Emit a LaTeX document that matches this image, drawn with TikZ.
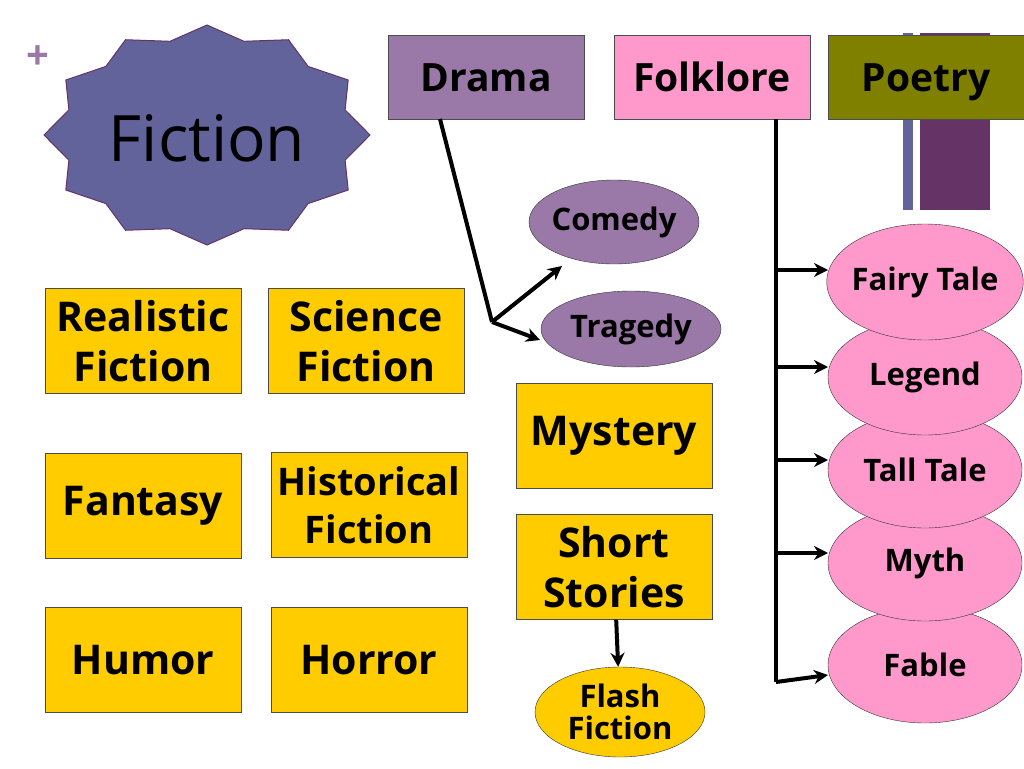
\documentclass[tikz,border=0pt]{standalone}
\usepackage{fontspec}
\setmainfont{Open Sans}
\usetikzlibrary{shapes.geometric,positioning,arrows.meta}
\definecolor{gold}{HTML}{FFCC00}
\definecolor{mauve}{HTML}{9A78A8}
\definecolor{pinky}{HTML}{FF99CC}
\definecolor{olivegreen}{HTML}{7F7F00}
\definecolor{slate}{HTML}{62639B}
\definecolor{plum}{HTML}{663366}
\tikzset{
  genre/.style={draw=black!70, fill=gold, minimum width=196pt, minimum height=105pt,
    align=center, inner sep=0pt, font=\fontsize{41}{50}\selectfont\bfseries},
  top/.style={draw=black!70, minimum width=196pt, minimum height=84pt,
    text height=34pt, text depth=5pt, font=\fontsize{39}{40}\selectfont\bfseries},
  oval/.style={draw=black!80, ellipse, align=center, inner sep=-4pt, font=\fontsize{31}{36}\selectfont\bfseries},
  arr/.style={line width=4pt, -{Stealth[length=14pt,width=14pt]}}
}
\begin{document}
\begin{tikzpicture}[x=1pt,y=-1pt]
\useasboundingbox (0,0) rectangle (1024,768);
% decorative bars
\fill[slate] (903,33) rectangle (913,210);
\fill[plum] (920,33) rectangle (990,210);
\node[text=mauve, font=\fontsize{40}{40}\selectfont\bfseries] (plus) at (38,58) {+};
% star
\filldraw[fill=slate, draw=plum, line width=1pt]
  (207,25) \foreach \i in {1,...,12}{ -- ({207+143*cos(90+30*\i-15)},{135-97*sin(90+30*\i-15)}) -- ({207+163*cos(90+30*\i)},{135-110*sin(90+30*\i)}) } -- cycle;
\node[font=\fontsize{64}{64}\selectfont] (fiction) at (207,138) {Fiction};
% top row
\node[top, fill=mauve] (drama) at (486,77) {Drama};
\node[top, fill=pinky] (folklore) at (712,77) {Folklore};
\node[top, fill=olivegreen] (poetry) at (926,77) {Poetry};
% genres
\node[genre] (realistic) at (143,341) {Realistic\\Fiction};
\node[genre] (scifi) at (366,341) {Science\\Fiction};
\node[genre] (fantasy) at (143,506) {Fantasy};
\node[genre, font=\fontsize{38}{48}\selectfont\bfseries] (historical) at (369,505) {Historical\\Fiction};
\node[genre] (humor) at (143,660) {Humor};
\node[genre] (horror) at (369,660) {Horror};
\node[genre] (mystery) at (614,436) {Mystery};
\node[genre] (short) at (614,567) {Short\\Stories};
% ovals
\node[oval, fill=mauve, minimum width=170pt, minimum height=84pt] (comedy) at (614,222) {Comedy};
\node[oval, fill=mauve, minimum width=180pt, minimum height=76pt] (tragedy) at (631,329) {Tragedy};
\node[oval, fill=gold, minimum width=170pt, minimum height=90pt] (flash) at (620,712) {Flash\\[-4pt]Fiction};
\foreach \n/\t/\y in {fable/Fable/665, myth/Myth/563, tall/Tall Tale/470, legend/Legend/377, fairy/Fairy Tale/282}
  \node[oval, fill=pinky, minimum width=194pt, minimum height=116pt] (\n) at (925,\y) {\t};
% connectors
\coordinate (dfork) at (492,322);
\coordinate (dtop) at (440,119);
\draw[line width=4pt] (dtop) -- (dfork);
\draw[arr] (dfork) -- (562,266);
\draw[arr] (dfork) -- (540,340);
\coordinate (ftop) at (776,119);
\coordinate (fbot) at (776,682);
\draw[line width=4pt] (ftop) -- (fbot);
\foreach \y in {270,367,460,553} \draw[arr] (774,\y) -- (828,\y);
\draw[arr] (fbot) -- (828,675);
\draw[arr] (short) -- (flash);
\end{tikzpicture}
\end{document}
